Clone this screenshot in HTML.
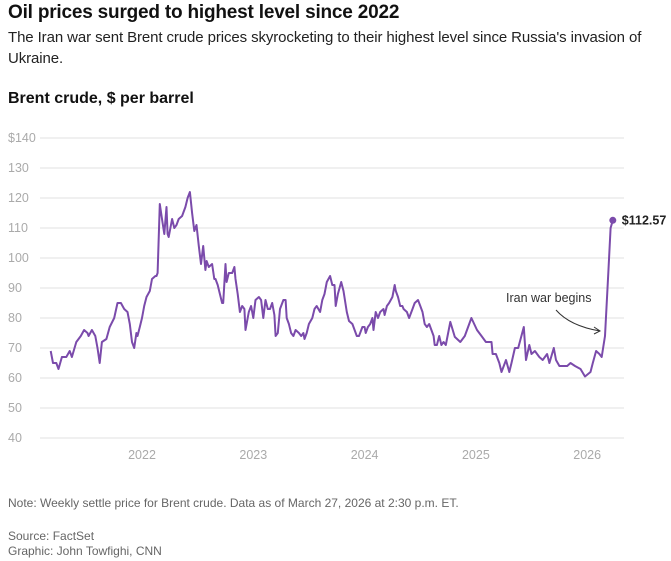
<!DOCTYPE html>
<html><head><meta charset="utf-8"><style>
body{margin:0;width:671px;height:561px;background:#fff;font-family:"Liberation Sans",Arial,sans-serif;overflow:hidden;position:relative}
.t{position:absolute;left:8px;white-space:nowrap}
</style></head><body>
<div class="t" style="top:2px;font-size:19px;font-weight:bold;color:#111;letter-spacing:-0.2px">Oil prices surged to highest level since 2022</div>
<div class="t" style="top:27px;font-size:15px;color:#222;line-height:21px;white-space:normal;width:662px;letter-spacing:-0.1px">The Iran war sent Brent crude prices skyrocketing to their highest level since Russia's invasion of Ukraine.</div>
<div class="t" style="top:90px;font-size:16px;font-weight:bold;color:#111">Brent crude, $ per barrel</div>
<svg id="chart" width="671" height="480" style="position:absolute;left:0;top:0"></svg>
<div class="t" style="top:496px;font-size:12px;color:#666">Note: Weekly settle price for Brent crude. Data as of March 27, 2026 at 2:30 p.m. ET.</div>
<div class="t" style="top:529px;font-size:12px;color:#666">Source: FactSet</div>
<div class="t" style="top:544px;font-size:12px;color:#666">Graphic: John Towfighi, CNN</div>
<script>
const yTicks=[40,50,60,70,80,90,100,110,120,130,140];
const xTicks=[2022,2023,2024,2025,2026];
const dates=[2021.18,2021.20,2021.23,2021.25,2021.28,2021.32,2021.35,2021.37,2021.41,2021.45,2021.48,2021.51,2021.52,2021.55,2021.58,2021.60,2021.62,2021.64,2021.68,2021.71,2021.75,2021.78,2021.81,2021.84,2021.87,2021.89,2021.91,2021.93,2021.95,2021.96,2021.98,2022.00,2022.02,2022.04,2022.07,2022.09,2022.12,2022.13,2022.14,2022.16,2022.18,2022.20,2022.22,2022.23,2022.24,2022.27,2022.29,2022.31,2022.33,2022.36,2022.39,2022.41,2022.43,2022.45,2022.47,2022.49,2022.51,2022.53,2022.55,2022.57,2022.58,2022.60,2022.63,2022.65,2022.66,2022.68,2022.70,2022.72,2022.73,2022.75,2022.76,2022.78,2022.81,2022.83,2022.84,2022.86,2022.88,2022.90,2022.92,2022.93,2022.94,2022.96,2022.98,2023.00,2023.02,2023.05,2023.07,2023.09,2023.11,2023.13,2023.15,2023.17,2023.19,2023.20,2023.22,2023.24,2023.27,2023.29,2023.30,2023.32,2023.34,2023.36,2023.38,2023.41,2023.43,2023.45,2023.46,2023.48,2023.50,2023.53,2023.55,2023.57,2023.60,2023.62,2023.64,2023.66,2023.69,2023.71,2023.73,2023.74,2023.76,2023.79,2023.81,2023.84,2023.86,2023.89,2023.91,2023.93,2023.95,2023.98,2024.00,2024.01,2024.03,2024.05,2024.07,2024.08,2024.10,2024.12,2024.14,2024.17,2024.18,2024.20,2024.22,2024.25,2024.27,2024.28,2024.30,2024.32,2024.34,2024.35,2024.38,2024.40,2024.43,2024.45,2024.48,2024.50,2024.52,2024.54,2024.56,2024.58,2024.60,2024.62,2024.63,2024.65,2024.67,2024.69,2024.71,2024.73,2024.77,2024.81,2024.86,2024.90,2024.96,2025.01,2025.05,2025.09,2025.14,2025.15,2025.18,2025.21,2025.23,2025.27,2025.30,2025.32,2025.35,2025.38,2025.43,2025.45,2025.48,2025.50,2025.53,2025.57,2025.60,2025.64,2025.66,2025.70,2025.72,2025.75,2025.78,2025.82,2025.85,2025.89,2025.94,2025.98,2026.03,2026.05,2026.08,2026.11,2026.13,2026.16,2026.19,2026.21,2026.23];
const prices=[69,65,65,63,67,67,69,67,72,74,76,75,74,76,74,70,65,72,73,77,80,85,85,83,82,78,72,70,75,74,77,80,84,87,89,93,94,94,95,118,113,108,117,108,107,113,110,111,113,114,117,120,122,115,109,111,104,98,104,96,99,97,98,93,93,91,88,85,85,98,92,95,95,97,93,88,82,84,83,76,78,82,84,80,86,87,86,80,86,83,83,85,81,74,75,83,86,86,80,78,75,74,76,75,74,75,73,75,78,80,83,84,82,86,88,92,94,91,91,84,88,92,89,82,79,78,76,74,74,77,77,75,77,78,80,76,82,80,82,83,81,84,85,87,91,89,87,84,84,83,82,80,83,85,86,84,82,78,77,78,76,74,71,71,74,71,72,71,78.7,73.7,72,74,80,76,74,72,72,68,68,65,62,66,62,65,70,70,77,66,71,68,69,67,66,68,65,70,66,64,64,64,65,64,63,60.5,62,65,69,68,67,74,95,110,112.57];
const svg=document.getElementById('chart');const NS='http://www.w3.org/2000/svg';
const L=40,R=624;
function y(v){return 438-(v-40)*3;}
function x(d){return 142+(d-2022)*111.3;}
function mk(t,a){const e=document.createElementNS(NS,t);for(const k in a)e.setAttribute(k,a[k]);svg.appendChild(e);return e;}
yTicks.forEach(v=>{
 const g=mk('line',{x1:L,x2:R,y1:y(v),y2:y(v),stroke:'#ececec','stroke-width':1.5});
 
 
 const t=mk('text',{x:8,y:y(v)+4,'font-size':12.5,fill:'#aaa','font-family':'Liberation Sans, sans-serif'});
 t.textContent=(v===140?'$':'')+v;
 
 
});
xTicks.forEach(d=>{
 const t=mk('text',{x:x(d),y:459,'font-size':12.5,fill:'#aaa','text-anchor':'middle','font-family':'Liberation Sans, sans-serif'});
 t.textContent=d;
 
 
});
const p=mk('polyline',{points:dates.map((d,i)=>x(d).toFixed(1)+','+y(prices[i]).toFixed(1)).join(' '),fill:'none',stroke:'#7b4bab','stroke-width':2,'stroke-linejoin':'round'});


const n=dates.length-1;
const dot=mk('circle',{cx:x(dates[n]),cy:y(prices[n]),r:3.5,fill:'#7b4bab'});


const lb=mk('text',{x:x(dates[n])+9,y:y(prices[n])+4,'font-size':12.5,'font-weight':'bold',fill:'#222','font-family':'Liberation Sans, sans-serif'});
lb.textContent='$'+prices[n].toFixed(2);


const an=mk('text',{x:506,y:302,'font-size':12.5,fill:'#333','font-family':'Liberation Sans, sans-serif'});
an.textContent='Iran war begins';


const ar=mk('path',{d:'M556 310 Q570 326 600 331 M594 327 L600 331 L594 334',fill:'none',stroke:'#333','stroke-width':1});


</script>
</body></html>
